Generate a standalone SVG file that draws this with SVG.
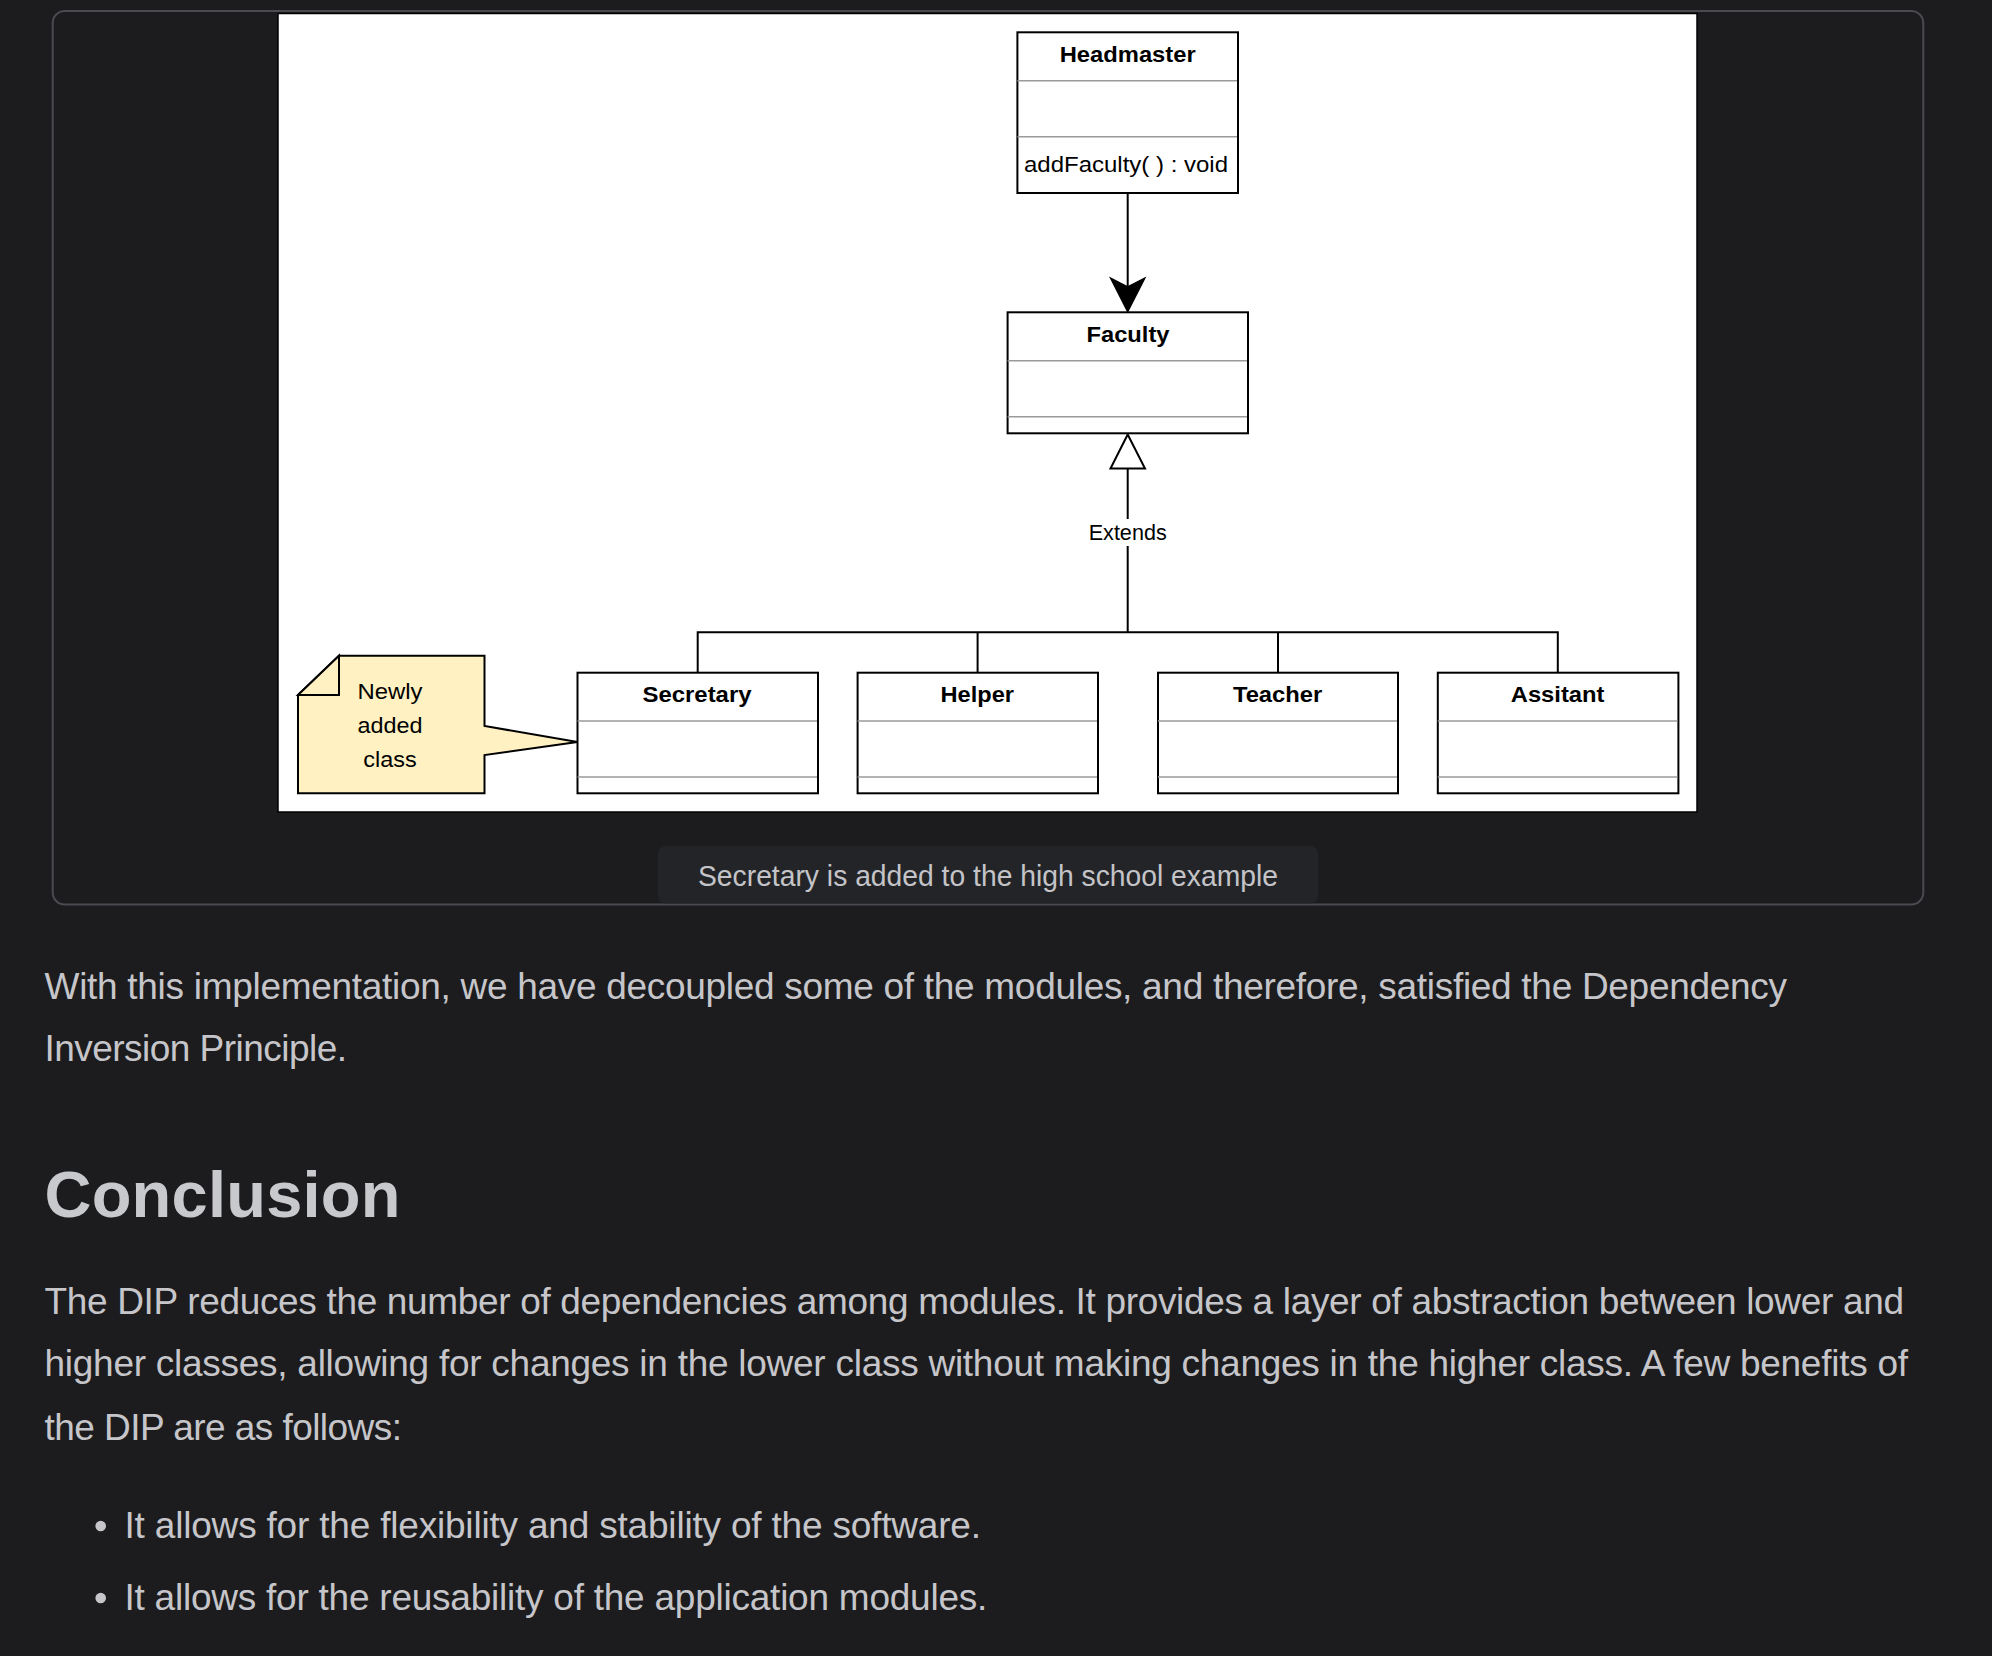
<svg xmlns="http://www.w3.org/2000/svg" width="1992" height="1656" viewBox="0 0 1992 1656">
<defs>
<style>
.bg{fill:#1c1c1e}
.card{fill:none;stroke:#4a4b51;stroke-width:2}
.pill{fill:#232428}
.cap{font-family:"Liberation Sans",Arial,Helvetica,sans-serif;font-size:29px;fill:#c4c4c8;text-anchor:middle}
.body{font-family:"Liberation Sans",Arial,Helvetica,sans-serif;font-size:37px;fill:#c6c6ca}
.h2{font-family:"Liberation Sans",Arial,Helvetica,sans-serif;font-size:65px;font-weight:bold;fill:#c8c9cd}
.box{fill:#ffffff;stroke:#000;stroke-width:2}
.div{stroke:#9a9a9a;stroke-width:1.6;fill:none}
.title{font-family:"Liberation Sans",Arial,Helvetica,sans-serif;font-size:22px;font-weight:bold;fill:#000;text-anchor:middle}
.lbl{font-family:"Liberation Sans",Arial,Helvetica,sans-serif;font-size:22px;fill:#000}
.edge{fill:none;stroke:#000;stroke-width:2}
.note{fill:#fff1c2;stroke:#000;stroke-width:2;stroke-linejoin:miter}
</style>
</defs>
<rect class="bg" x="0" y="0" width="1992" height="1656"/>
<rect class="card" x="52.7" y="11" width="1870.6" height="893.5" rx="12"/>
<rect x="278" y="13.5" width="1419" height="798.5" fill="#ffffff" stroke="#000" stroke-width="1.5"/>
<rect class="pill" x="658" y="846" width="660" height="57.5" rx="8"/>
<text class="cap" x="988" y="885.5" textLength="580" lengthAdjust="spacingAndGlyphs">Secretary is added to the high school example</text>

<g id="connectors">
<line class="edge" x1="1127.7" y1="193" x2="1127.7" y2="288"/>
<path d="M1127.7,311.7 L1110.7,278.3 L1127.7,287 L1144.7,278.3 Z" fill="#000" stroke="#000" stroke-width="1.5" stroke-linejoin="miter"/>
<path class="edge" d="M1127.7,468.5 L1127.7,519 M1127.7,546 L1127.7,632.3 M697.7,672.7 L697.7,632.3 L1557.8,632.3 L1557.8,672.7 M977.6,632.3 L977.6,672.7 M1278,632.3 L1278,672.7"/>
<path d="M1127.7,434.5 L1110.5,468.5 L1145,468.5 Z" fill="#ffffff" stroke="#000" stroke-width="2"/>
<text class="lbl" x="1127.7" y="540" text-anchor="middle" font-size="20" textLength="78" lengthAdjust="spacingAndGlyphs">Extends</text>
</g>

<g id="headmaster">
<rect class="box" x="1017.4" y="32.3" width="220.6" height="160.7"/>
<line class="div" x1="1017.4" y1="80.7" x2="1237" y2="80.7"/>
<line class="div" x1="1017.4" y1="136.7" x2="1237" y2="136.7"/>
<text class="title" x="1127.7" y="62" textLength="136" lengthAdjust="spacingAndGlyphs">Headmaster</text>
<text class="lbl" x="1024" y="172" textLength="204" lengthAdjust="spacingAndGlyphs">addFaculty( ) : void</text>
</g>

<g id="faculty">
<rect class="box" x="1007.6" y="312.3" width="240.4" height="121"/>
<line class="div" x1="1007.6" y1="360.7" x2="1247" y2="360.7"/>
<line class="div" x1="1007.6" y1="416.7" x2="1247" y2="416.7"/>
<text class="title" x="1128" y="342" textLength="83" lengthAdjust="spacingAndGlyphs">Faculty</text>
</g>

<g id="secretary">
<rect class="box" x="577.5" y="672.7" width="240.5" height="120.6"/>
<line class="div" x1="577.5" y1="721" x2="817" y2="721"/>
<line class="div" x1="577.5" y1="777" x2="817" y2="777"/>
<text class="title" x="697" y="702" textLength="109" lengthAdjust="spacingAndGlyphs">Secretary</text>
</g>

<g id="helper">
<rect class="box" x="857.6" y="672.7" width="240.4" height="120.6"/>
<line class="div" x1="857.6" y1="721" x2="1097" y2="721"/>
<line class="div" x1="857.6" y1="777" x2="1097" y2="777"/>
<text class="title" x="977.3" y="702" textLength="73.5" lengthAdjust="spacingAndGlyphs">Helper</text>
</g>

<g id="teacher">
<rect class="box" x="1158" y="672.7" width="240" height="120.6"/>
<line class="div" x1="1158" y1="721" x2="1397" y2="721"/>
<line class="div" x1="1158" y1="777" x2="1397" y2="777"/>
<text class="title" x="1277.6" y="702" textLength="89.4" lengthAdjust="spacingAndGlyphs">Teacher</text>
</g>

<g id="assitant">
<rect class="box" x="1437.8" y="672.7" width="240.6" height="120.6"/>
<line class="div" x1="1437.8" y1="721" x2="1677.4" y2="721"/>
<line class="div" x1="1437.8" y1="777" x2="1677.4" y2="777"/>
<text class="title" x="1557.6" y="702" textLength="93.7" lengthAdjust="spacingAndGlyphs">Assitant</text>
</g>

<g id="note">
<path class="note" d="M298,695 L339,655.7 L484.5,655.7 L484.5,726 L577.5,742 L484.5,755 L484.5,793.3 L298,793.3 Z"/>
<path class="note" d="M339,655.7 L339,695 L298,695 Z"/>
<text class="lbl" x="390" y="699" text-anchor="middle" textLength="65" lengthAdjust="spacingAndGlyphs">Newly</text>
<text class="lbl" x="390" y="733" text-anchor="middle" textLength="65" lengthAdjust="spacingAndGlyphs">added</text>
<text class="lbl" x="390" y="767" text-anchor="middle" textLength="53.4" lengthAdjust="spacingAndGlyphs">class</text>
</g>

<text class="body" x="44.5" y="999" textLength="1742.5">With this implementation, we have decoupled some of the modules, and therefore, satisfied the Dependency</text>
<text class="body" x="44.5" y="1061" textLength="302.5">Inversion Principle.</text>
<text class="h2" x="44.5" y="1217" textLength="356">Conclusion</text>
<text class="body" x="44.5" y="1314" textLength="1859.5">The DIP reduces the number of dependencies among modules. It provides a layer of abstraction between lower and</text>
<text class="body" x="44.5" y="1376" textLength="1863.5">higher classes, allowing for changes in the lower class without making changes in the higher class. A few benefits of</text>
<text class="body" x="44.5" y="1440" textLength="357.5">the DIP are as follows:</text>
<circle cx="100.7" cy="1526" r="5.3" fill="#c6c6ca"/>
<text class="body" x="124.5" y="1538" textLength="856.5">It allows for the flexibility and stability of the software.</text>
<circle cx="100.7" cy="1598" r="5.3" fill="#c6c6ca"/>
<text class="body" x="124.5" y="1610" textLength="862.8">It allows for the reusability of the application modules.</text>
</svg>
